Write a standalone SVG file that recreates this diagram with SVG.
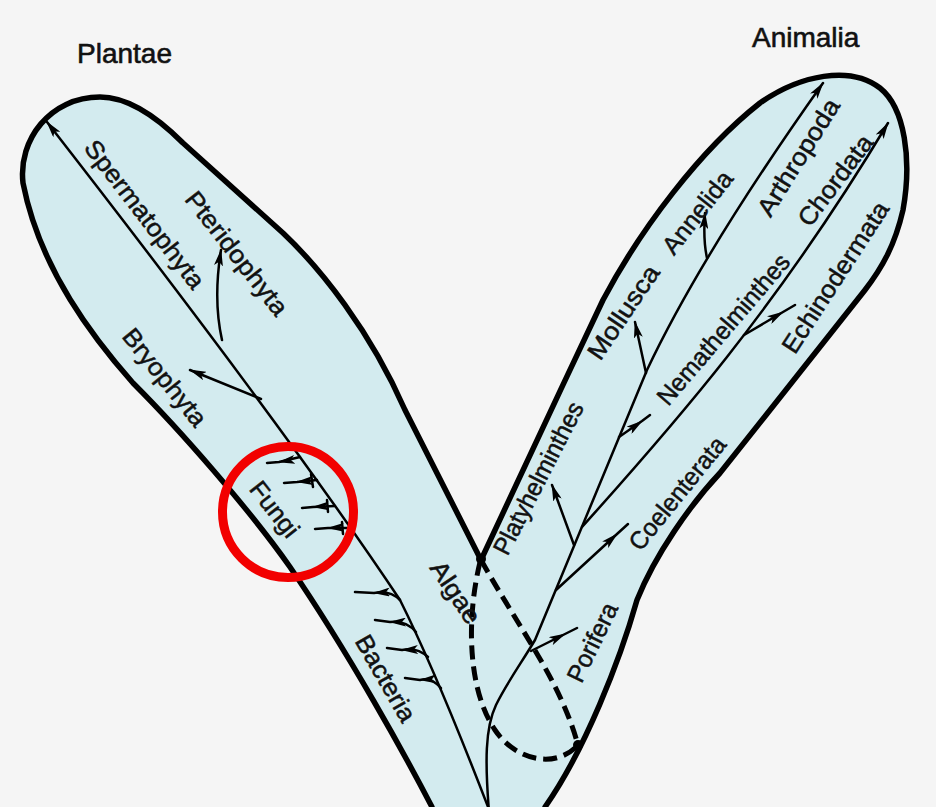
<svg xmlns="http://www.w3.org/2000/svg" width="936" height="807" viewBox="0 0 936 807">
<defs>
<style>
.bg{fill:#f5f5f5}
.body{fill:#d3ebef;stroke:#000;stroke-width:5.5;stroke-linejoin:round}
.ln{fill:none;stroke:#000;stroke-width:2.5;stroke-linecap:round;stroke-linejoin:round}
.dash{fill:none;stroke:#000;stroke-width:5;stroke-dasharray:14 7}
.t{font-family:"Liberation Sans",Arial,sans-serif;font-size:25px;fill:#111;stroke:#111;stroke-width:0.5;text-anchor:middle;dominant-baseline:central}
.title{font-family:"Liberation Sans",Arial,sans-serif;font-size:28px;fill:#111;stroke:#111;stroke-width:0.6}
.ring{fill:none;stroke:#f20000;stroke-width:9}
</style>
<marker id="ah" viewBox="0 0 17 9" refX="16" refY="4.5" markerWidth="17" markerHeight="9" markerUnits="userSpaceOnUse" orient="auto">
<path d="M0,0 L17,4.5 L0,9 L4,4.5 Z" fill="#000"/>
</marker>
</defs>
<rect class="bg" x="0" y="0" width="936" height="807"/>

<g id="outline">
<path class="body" d="M436,830 L432,807 C405,755 350,655 290,567 C250,510 180,430 133,383 C95,340 40,270 23,183 C18,140 50,97 100,97 C130,97 160,120 183,143 L283,233 C320,268 370,330 405,410 L481,560 C505,510 560,390 603,300 C640,230 700,150 760,103 C800,75 850,65 880,88 C905,108 912,160 903,210 C895,245 882,268 865,290 C830,335 770,410 720,473 C690,505 655,555 637,600 C620,660 585,750 545,807 L540,830 Z"/>
</g>

<g id="connectors">
<!-- Plantae trunk -->
<path class="ln" d="M490,812 C470,760 435,670 400,600 C340,510 240,370 47,122" marker-end="url(#ah)"/>
<path class="ln" d="M222,340 Q213,300 221,250" marker-end="url(#ah)"/>
<path class="ln" d="M261,399 L190,370" marker-end="url(#ah)"/>
<!-- Fungi -->
<path class="ln" d="M300,457 L279,462 L267,463" marker-mid="url(#ah)"/>
<path class="ln" d="M317,480 L297,482 L284,483" marker-mid="url(#ah)"/>
<path class="ln" d="M311,474 L313,487"/>
<path class="ln" d="M335,506 L313,507 L302,508" marker-mid="url(#ah)"/>
<path class="ln" d="M327,500 L328,512"/>
<path class="ln" d="M350,528 L328,528 L315,529" marker-mid="url(#ah)"/>
<path class="ln" d="M342,522 L343,534"/>
<!-- Bacteria -->
<path class="ln" d="M400,600 Q390,590 374,593 L355,592" marker-mid="url(#ah)"/>
<path class="ln" d="M416,632 Q406,620 390,622 L375,620" marker-mid="url(#ah)"/>
<path class="ln" d="M428,657 Q417,647 402,650 L387,648" marker-mid="url(#ah)"/>
<path class="ln" d="M441,688 Q431,677 420,680 L405,678" marker-mid="url(#ah)"/>
<!-- Animalia trunk -->
<path class="ln" d="M489,812 C485,762 485,728 496,705 C506,684 522,662 535,640 L647,370 C680,300 740,200 823,83" marker-end="url(#ah)"/>
<path class="ln" d="M574,545 L552,485" marker-end="url(#ah)"/>
<path class="ln" d="M556,590 L617,534 L628,524" marker-mid="url(#ah)"/>
<path class="ln" d="M531,651 L565,634 L577,628" marker-mid="url(#ah)"/>
<path class="ln" d="M582,527 C655,445 770,320 888,123" marker-end="url(#ah)"/>
<path class="ln" d="M744,335 L783,312 L795,305" marker-mid="url(#ah)"/>
<path class="ln" d="M619,437 L642,421 L650,415" marker-mid="url(#ah)"/>
<path class="ln" d="M646,373 L635,322" marker-end="url(#ah)"/>
<path class="ln" d="M707,258 Q703,240 705,213" marker-end="url(#ah)"/>
<!-- Algae dashed -->
<path class="dash" d="M481,560 C520,630 560,680 578,745"/>
<path class="dash" d="M480,562 C466,620 468,690 495,730 C515,760 555,770 578,745"/>
<circle cx="578" cy="745" r="5" fill="#000"/>
<circle cx="481" cy="559" r="5" fill="#000"/>
</g>

<g id="title-plantae"><text class="title" x="77" y="63">Plantae</text></g>
<g id="title-animalia"><text class="title" x="752" y="47" font-size="29">Animalia</text></g>

<g id="spermatophyta"><text class="t" transform="translate(145,214) rotate(52.5)" textLength="180" lengthAdjust="spacingAndGlyphs">Spermatophyta</text></g>
<g id="pteridophyta"><text class="t" transform="translate(237,253) rotate(52)" textLength="150" lengthAdjust="spacingAndGlyphs">Pteridophyta</text></g>
<g id="bryophyta"><text class="t" transform="translate(165,377) rotate(51)" textLength="118" lengthAdjust="spacingAndGlyphs">Bryophyta</text></g>
<g id="fungi"><text class="t" transform="translate(275,509) rotate(52)" textLength="64" lengthAdjust="spacingAndGlyphs">Fungi</text></g>
<g id="bacteria"><text class="t" transform="translate(386,678) rotate(60)" textLength="96" lengthAdjust="spacingAndGlyphs">Bacteria</text></g>
<g id="algae"><text class="t" transform="translate(456,592) rotate(56)" textLength="70" lengthAdjust="spacingAndGlyphs">Algae</text></g>

<g id="platyhelminthes"><text class="t" transform="translate(538,478) rotate(-62.8)" textLength="168" lengthAdjust="spacingAndGlyphs">Platyhelminthes</text></g>
<g id="porifera"><text class="t" transform="translate(592,642) rotate(-64)" textLength="85" lengthAdjust="spacingAndGlyphs">Porifera</text></g>
<g id="coelenterata"><text class="t" transform="translate(677,493) rotate(-51)" textLength="138" lengthAdjust="spacingAndGlyphs">Coelenterata</text></g>
<g id="nemathelminthes"><text class="t" transform="translate(723,329) rotate(-49.5)" textLength="190" lengthAdjust="spacingAndGlyphs">Nemathelminthes</text></g>
<g id="mollusca"><text class="t" transform="translate(623,312) rotate(-56)" textLength="108" lengthAdjust="spacingAndGlyphs">Mollusca</text></g>
<g id="annelida"><text class="t" transform="translate(697,212) rotate(-52)" textLength="98" lengthAdjust="spacingAndGlyphs">Annelida</text></g>
<g id="arthropoda"><text class="t" transform="translate(798,157) rotate(-58)" textLength="133" lengthAdjust="spacingAndGlyphs">Arthropoda</text></g>
<g id="chordata"><text class="t" transform="translate(835,180) rotate(-53)" textLength="107" lengthAdjust="spacingAndGlyphs">Chordata</text></g>
<g id="echinodermata"><text class="t" transform="translate(835,277) rotate(-57)" textLength="175" lengthAdjust="spacingAndGlyphs">Echinodermata</text></g>

<g id="highlight"><circle class="ring" cx="288" cy="512" r="65.5"/></g>
</svg>
